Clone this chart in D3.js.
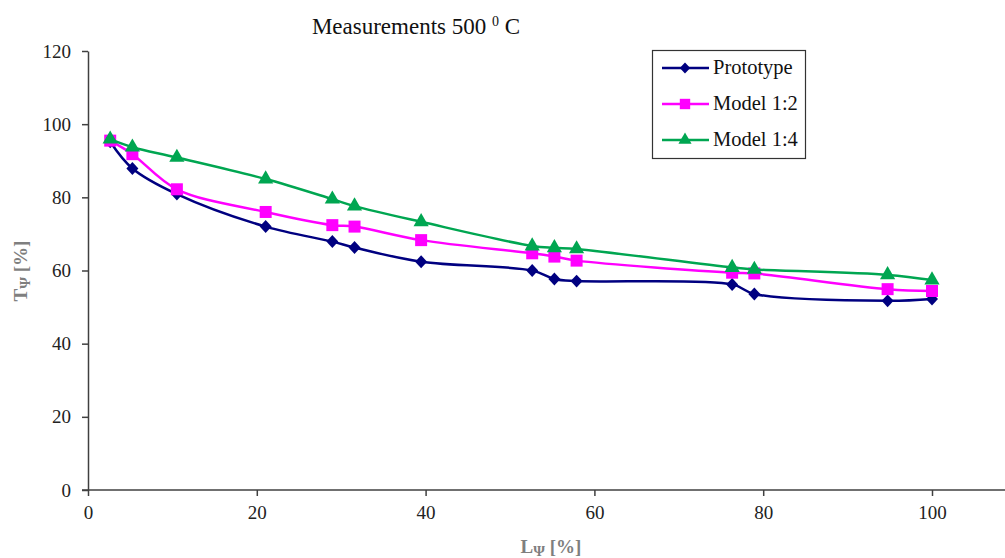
<!DOCTYPE html>
<html>
<head>
<meta charset="utf-8">
<script src="https://cdn.jsdelivr.net/npm/d3@7"></script>
<style>
  body { margin: 0; background: #fff; }
  text { font-family: "Liberation Serif", "DejaVu Serif", serif; }
</style>
</head>
<body>
<svg id="chart" width="1005" height="558"></svg>
<script>
// relative length L (same for all series)
var lengths = [2.63, 5.26, 10.53, 21.05, 28.95, 31.58, 39.47, 52.63, 55.26, 57.89, 76.32, 78.95, 94.74, 100];
var prototype = [95.2, 87.9, 80.9, 72.0, 67.9, 66.3, 62.4, 60.0, 57.7, 57.1, 56.2, 53.6, 51.7, 52.2];
var model12 = [95.5, 91.8, 82.2, 76.0, 72.4, 72.0, 68.3, 64.7, 63.8, 62.7, 59.4, 59.2, 54.9, 54.4];
var model14 = [95.9, 93.7, 90.9, 85.0, 79.5, 77.6, 73.3, 66.7, 66.2, 65.9, 60.8, 60.3, 58.8, 57.4];
var seriesNames = ["Prototype", "Model 1:2", "Model 1:4"];
var xTicks = [0, 20, 40, 60, 80, 100];
var yTicks = [0, 20, 40, 60, 80, 100, 120];

// excel-like diamond (nearly square)
var diamond = {
	draw: function(ctx, size) {
		var r = Math.sqrt(size / 2);
		ctx.moveTo(0, -r * 1.08);
		ctx.lineTo(r, 0);
		ctx.lineTo(0, r * 1.08);
		ctx.lineTo(-r, 0);
		ctx.closePath();
	}
};

var series = [
	{name: seriesNames[0], values: prototype, color: "#000080", symbol: diamond, size: 72},
	{name: seriesNames[1], values: model12, color: "#ff00ff", symbol: d3.symbolSquare, size: 144},
	{name: seriesNames[2], values: model14, color: "#00a651", symbol: d3.symbolTriangle, size: 100}
];

var svg = d3.select("#chart");
var axisColor = "#404040";

// x axis runs on past 100 to the right edge
var x = d3.scaleLinear().domain([0, 100]).range([88, 932]);
var y = d3.scaleLinear().domain([0, 120]).range([490, 51]);

var xAxis = svg.append("g")
	.attr("transform", "translate(0,490)")
	.call(d3.axisBottom(x).tickValues(xTicks).tickSize(6).tickSizeOuter(0).tickPadding(10));
xAxis.select(".domain").remove();
xAxis.append("line")
	.attr("x1", 82).attr("x2", 1005)
	.attr("stroke", axisColor).attr("stroke-width", 1.5);

var yAxis = svg.append("g")
	.attr("transform", "translate(88,0)")
	.call(d3.axisLeft(y).tickValues(yTicks).tickSize(6).tickSizeOuter(0).tickPadding(11));

svg.selectAll(".tick line").attr("stroke", axisColor).attr("stroke-width", 1.5);
yAxis.select(".domain").attr("stroke", axisColor).attr("stroke-width", 1.5);
svg.selectAll(".tick text")
	.attr("fill", "#222")
	.style("font-family", "'Liberation Serif', serif")
	.style("font-size", "19px");

// lines + markers
var line = d3.line()
	.x(function(d) { return x(d[0]); })
	.y(function(d) { return y(d[1]); })
	.curve(d3.curveCatmullRom.alpha(0.5));

series.forEach(function(s) {
	var pts = lengths.map(function(l, i) { return [l, s.values[i]]; });
	svg.append("path")
		.attr("d", line(pts))
		.attr("fill", "none")
		.attr("stroke", s.color)
		.attr("stroke-width", 2.5);
	svg.selectAll(null)
		.data(pts)
		.enter().append("path")
		.attr("d", d3.symbol().type(s.symbol).size(s.size))
		.attr("transform", function(d) { return "translate(" + x(d[0]) + "," + y(d[1]) + ")"; })
		.attr("fill", s.color);
});

// title
var title = svg.append("text")
	.attr("x", 416).attr("y", 34)
	.attr("text-anchor", "middle")
	.style("font-size", "23px")
	.attr("fill", "#111");
title.append("tspan").text("Measurements 500 ");
title.append("tspan").attr("dy", -8).style("font-size", "14px").text("0");
title.append("tspan").attr("dy", 8).text(" C");

// axis labels
var yl = svg.append("text")
	.attr("transform", "translate(27,271) rotate(-90)")
	.attr("text-anchor", "middle")
	.attr("fill", "#7f7f7f")
	.style("font-weight", "bold")
	.style("font-size", "19px");
yl.append("tspan").text("T");
yl.append("tspan").attr("dy", 3).style("font-size", "15px").text("Ψ");
yl.append("tspan").attr("dy", -3).text(" [%]");

var xl = svg.append("text")
	.attr("x", 551).attr("y", 553)
	.attr("text-anchor", "middle")
	.attr("fill", "#7f7f7f")
	.style("font-weight", "bold")
	.style("font-size", "19px");
xl.append("tspan").text("L");
xl.append("tspan").attr("dy", 3).style("font-size", "15px").text("Ψ");
xl.append("tspan").attr("dy", -3).text(" [%]");

// legend
var legend = svg.append("g");
legend.append("rect")
	.attr("x", 652.5).attr("y", 50.5)
	.attr("width", 153).attr("height", 108)
	.attr("fill", "#fff")
	.attr("stroke", "#333").attr("stroke-width", 1.2);
series.forEach(function(s, i) {
	var ly = 68 + i * 36;
	legend.append("line")
		.attr("x1", 662).attr("x2", 709)
		.attr("y1", ly).attr("y2", ly)
		.attr("stroke", s.color).attr("stroke-width", 2.5);
	legend.append("path")
		.attr("d", d3.symbol().type(s.symbol).size(s.size * 0.75))
		.attr("transform", "translate(685," + ly + ")")
		.attr("fill", s.color);
	legend.append("text")
		.attr("x", 713).attr("y", ly + 6)
		.attr("fill", "#111")
		.style("font-size", "20.5px")
		.text(s.name);
});
</script>
</body>
</html>
